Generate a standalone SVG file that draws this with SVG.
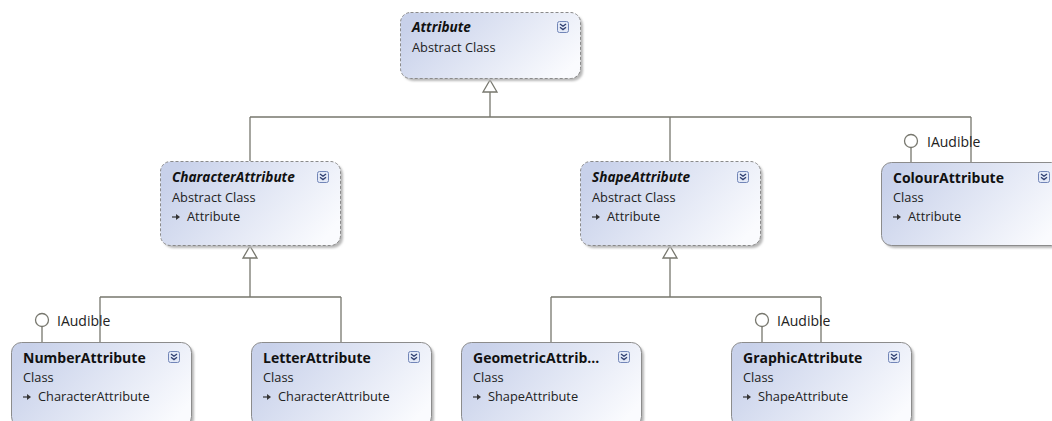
<svg xmlns="http://www.w3.org/2000/svg" xmlns:xlink="http://www.w3.org/1999/xlink" width="1052" height="421" viewBox="0 0 1052 421">
<style>
.box{fill:url(#grad);stroke:#8c8c8c;stroke-width:1}
.abs{stroke-dasharray:3 2;stroke:#8a8a8a}
.shadow{fill:#b8b8b8;filter:url(#blur)}
.title{font-family:"Open Sans","Noto Sans",sans-serif;font-weight:bold;font-size:14px;fill:#111}
.ital{font-style:italic;font-size:13.6px}
.sub{font-family:"Open Sans","Noto Sans",sans-serif;font-size:12.8px;fill:#222}
.lbl{font-family:"Open Sans","Noto Sans",sans-serif;font-size:14px;fill:#222}
.conn{stroke:#77776e;stroke-width:1.3;fill:none}
.tri{fill:#fff;stroke:#77776e;stroke-width:1.3}
.lol{fill:#fff;stroke:#77776e;stroke-width:1.3}
</style>
<defs>
<linearGradient id="grad" x1="0" y1="0.3" x2="1" y2="0.7">
<stop offset="0" stop-color="#c8d1ea"/>
<stop offset="1" stop-color="#fafbfe"/>
</linearGradient>
<filter id="blur" x="-10%" y="-10%" width="120%" height="130%"><feGaussianBlur stdDeviation="1.2"/></filter>
<g id="btn">
<rect x="0.5" y="0.5" width="11" height="11" rx="2" fill="#e3e9f7" stroke="#7286b8"/>
<path d="M3,3 L6,5.3 L9,3 M3,6.3 L6,8.6 L9,6.3" stroke="#2f3f70" stroke-width="1.3" fill="none"/>
</g>
<g id="inh">
<path d="M0,0 H5" stroke="#333" stroke-width="1.2"/>
<path d="M4,-3 L8,0 L4,3 Z" fill="#333"/>
</g>
</defs>
<rect width="1052" height="421" fill="#fff"/>

<g id="connectors">
<path class="conn" d="M490,92 V117 M250,117 H971 M250,117 V161 M670,117 V161 M971,117 V162"/>
<path class="tri" d="M490,80 L497,92 L483,92 Z"/>
<path class="conn" d="M250,258 V297 M100,297 H341 M100,297 V342 M341,297 V342"/>
<path class="tri" d="M250,246 L257,258 L243,258 Z"/>
<path class="conn" d="M670,258 V297 M551,297 H821 M551,297 V343 M821,297 V342"/>
<path class="tri" d="M670,246 L677,258 L663,258 Z"/>
<path class="conn" d="M911,148 V162 M42,327 V342 M762,327 V342"/>
<circle class="lol" cx="911" cy="141" r="6.5"/>
<circle class="lol" cx="42" cy="320" r="6.5"/>
<circle class="lol" cx="762" cy="320" r="6.5"/>
<text class="lbl" x="927" y="147">IAudible</text>
<text class="lbl" x="57" y="326">IAudible</text>
<text class="lbl" x="777" y="326">IAudible</text>
</g>

<g id="attribute" transform="translate(400,12)">
<rect class="shadow" x="3" y="3" width="180" height="66" rx="10"/>
<rect class="box abs" x="0.5" y="0.5" width="180" height="66" rx="10"/>
<text class="title ital" x="12" y="20">Attribute</text>
<text class="sub" x="12" y="40">Abstract Class</text>
<use xlink:href="#btn" x="157" y="9"/>
</g>

<g id="characterAttribute" transform="translate(160,161)">
<rect class="shadow" x="3" y="3" width="180" height="84" rx="10"/>
<rect class="box abs" x="0.5" y="0.5" width="180" height="84" rx="10"/>
<text class="title ital" x="12" y="21">CharacterAttribute</text>
<text class="sub" x="12" y="41">Abstract Class</text>
<use xlink:href="#inh" x="12" y="56"/>
<text class="sub" x="27" y="60">Attribute</text>
<use xlink:href="#btn" x="157" y="10"/>
</g>

<g id="shapeAttribute" transform="translate(580,161)">
<rect class="shadow" x="3" y="3" width="180" height="84" rx="10"/>
<rect class="box abs" x="0.5" y="0.5" width="180" height="84" rx="10"/>
<text class="title ital" x="12" y="21">ShapeAttribute</text>
<text class="sub" x="12" y="41">Abstract Class</text>
<use xlink:href="#inh" x="12" y="56"/>
<text class="sub" x="27" y="60">Attribute</text>
<use xlink:href="#btn" x="157" y="10"/>
</g>

<g id="colourAttribute" transform="translate(881,162)">
<rect class="shadow" x="3" y="3" width="180" height="83" rx="10"/>
<rect class="box" x="0.5" y="0.5" width="180" height="83" rx="10"/>
<text class="title" x="12" y="21">ColourAttribute</text>
<text class="sub" x="12" y="40">Class</text>
<use xlink:href="#inh" x="12" y="55"/>
<text class="sub" x="27" y="59">Attribute</text>
<use xlink:href="#btn" x="157" y="9"/>
</g>

<g id="numberAttribute" transform="translate(11,342)">
<rect class="shadow" x="3" y="3" width="180" height="84" rx="10"/>
<rect class="box" x="0.5" y="0.5" width="180" height="84" rx="10"/>
<text class="title" x="12" y="21">NumberAttribute</text>
<text class="sub" x="12" y="40">Class</text>
<use xlink:href="#inh" x="12" y="55"/>
<text class="sub" x="27" y="59">CharacterAttribute</text>
<use xlink:href="#btn" x="157" y="9"/>
</g>

<g id="letterAttribute" transform="translate(251,342)">
<rect class="shadow" x="3" y="3" width="180" height="84" rx="10"/>
<rect class="box" x="0.5" y="0.5" width="180" height="84" rx="10"/>
<text class="title" x="12" y="21">LetterAttribute</text>
<text class="sub" x="12" y="40">Class</text>
<use xlink:href="#inh" x="12" y="55"/>
<text class="sub" x="27" y="59">CharacterAttribute</text>
<use xlink:href="#btn" x="157" y="9"/>
</g>

<g id="geometricAttribute" transform="translate(461,342)">
<rect class="shadow" x="3" y="3" width="180" height="84" rx="10"/>
<rect class="box" x="0.5" y="0.5" width="180" height="84" rx="10"/>
<text class="title" x="12" y="21">GeometricAttrib...</text>
<text class="sub" x="12" y="40">Class</text>
<use xlink:href="#inh" x="12" y="55"/>
<text class="sub" x="27" y="59">ShapeAttribute</text>
<use xlink:href="#btn" x="157" y="9"/>
</g>

<g id="graphicAttribute" transform="translate(731,342)">
<rect class="shadow" x="3" y="3" width="180" height="84" rx="10"/>
<rect class="box" x="0.5" y="0.5" width="180" height="84" rx="10"/>
<text class="title" x="12" y="21">GraphicAttribute</text>
<text class="sub" x="12" y="40">Class</text>
<use xlink:href="#inh" x="12" y="55"/>
<text class="sub" x="27" y="59">ShapeAttribute</text>
<use xlink:href="#btn" x="157" y="9"/>
</g>
</svg>
